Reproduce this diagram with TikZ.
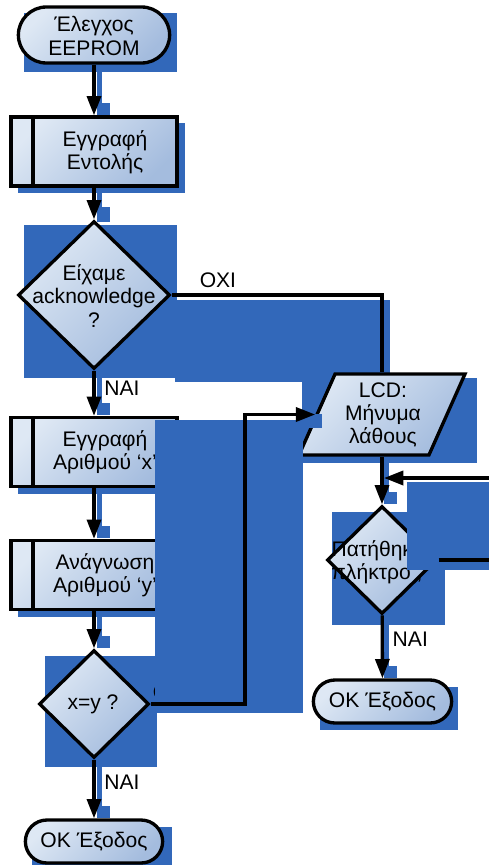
\documentclass[tikz,border=0pt]{standalone}
\usepackage{fontspec}
\setmainfont{Liberation Sans}
\usepackage{tikz}
\usetikzlibrary{arrows.meta}
\usetikzlibrary{backgrounds}
\usetikzlibrary{shapes,shapes.geometric,shapes.misc}
\pgfdeclarelayer{edgelayer}
\pgfdeclarelayer{nodelayer}
\pgfsetlayers{background,edgelayer,nodelayer,main}
\definecolor{shadowblue}{RGB}{50,104,186}
\definecolor{boxlight}{RGB}{222,232,244}
\definecolor{boxdark}{RGB}{164,188,222}
\tikzstyle{none}=[inner sep=0mm]
\tikzstyle{txt}=[inner sep=0mm,align=center,font=\fontsize{12}{13.2}\selectfont]
\tikzstyle{lbl}=[txt,anchor=west,xshift=5pt]
\tikzstyle{boxfill}=[draw=black,line width=1.9pt,top color=boxlight,bottom color=boxdark,shading angle=45]
\tikzstyle{term}=[boxfill,shape=rounded rectangle,minimum height=1.12cm]
\tikzstyle{proc}=[boxfill,shape=rectangle,minimum width=3.32cm,minimum height=1.38cm,path picture={\draw[line width=1.9pt] ([xshift=0.44cm]path picture bounding box.north west) -- ([xshift=0.44cm]path picture bounding box.south west);}]
\tikzstyle{dec}=[boxfill,shape=diamond,inner sep=0mm,minimum width=2.2cm,minimum height=2.16cm]
\tikzstyle{io}=[boxfill,shape=trapezium,trapezium left angle=69,trapezium right angle=111,trapezium stretches=true,minimum width=3.32cm,minimum height=1.62cm,inner sep=2pt]
\tikzstyle{sh}=[fill=shadowblue]
\tikzstyle{wire}=[line width=1.9pt]
\tikzstyle{arr}=[wire,-{Triangle[length=11pt,width=8pt]}]

\begin{document}
\begin{tikzpicture}[x=0.02cm,y=-0.02cm]
	\useasboundingbox (0,0) rectangle (489,865);
	\begin{pgfonlayer}{nodelayer}
		\node [style=term, minimum width=3.26cm] (t1) at (94,35) {};
		\node [style=txt] (t1t) at (94,36) {Έλεγχος\\EEPROM};
		\node [style=proc] (p1) at (94,151.5) {};
		\node [style=txt] (p1t) at (105,152) {Εγγραφή\\Εντολής};
		\node [style=dec, minimum width=3.04cm, minimum height=2.96cm] (d1) at (94,295) {};
		\node [style=txt] (d1t) at (94,296) {Είχαμε\\acknowledge\\?};
		\node [style=io] (lcd) at (382,414.5) {};
		\node [style=txt] (lcdt) at (383,415) {LCD:\\Μήνυμα\\λάθους};
		\node [style=proc] (p2) at (94,452) {};
		\node [style=txt] (p2t) at (105,452.5) {Εγγραφή\\Αριθμού ‘x’};
		\node [style=proc] (p3) at (94,575) {};
		\node [style=txt] (p3t) at (105,575) {Ανάγνωση\\Αριθμού ‘y’};
		\node [style=dec] (d3) at (94,704) {};
		\node [style=txt] (d3t) at (93,704) {x=y ?};
		\node [style=term, minimum width=2.98cm, minimum height=0.86cm] (t2) at (94,841.5) {};
		\node [style=txt] (t2t) at (94,841.5) {OK Έξοδος};
		\node [style=dec] (d2) at (382,560) {};
		\node [style=txt] (d2t) at (377,562) {Πατήθηκε\\πλήκτρο ;};
		\node [style=term, minimum width=3cm, minimum height=0.86cm] (t3) at (382.5,701.5) {};
		\node [style=txt] (t3t) at (382.5,701.5) {OK Έξοδος};
	\end{pgfonlayer}
	\begin{pgfonlayer}{background}
		% shadows of the shapes
		\fill [style=sh] (24,13) rectangle (177,72);
		\fill [style=sh] (18,123) rectangle (185,193);
		\fill [style=sh] (24,225) rectangle (177,378);
		\fill [style=sh] (18,423) rectangle (185,494);
		\fill [style=sh] (18,546) rectangle (185,617);
		\fill [style=sh] (45,656) rectangle (157,767);
		\fill [style=sh] (32,827) rectangle (172,872);
		\fill [style=sh] (175,300) rectangle (390,382);
		\fill [style=sh] (302,378) rectangle (477,463);
		\fill [style=sh] (332,512) rectangle (445,625);
		\fill [style=sh] (320,687) rectangle (458,730);
		% shadows of the arrows
		\fill [style=sh] (97,63) rectangle (102,103);
		\fill [style=sh] (97,103) rectangle (110,115);
		\fill [style=sh] (97,186) rectangle (102,207);
		\fill [style=sh] (97,207) rectangle (110,222);
		\fill [style=sh] (97,369) rectangle (102,403);
		\fill [style=sh] (97,403) rectangle (110,415);
		\fill [style=sh] (97,487) rectangle (102,526);
		\fill [style=sh] (97,526) rectangle (110,538);
		\fill [style=sh] (97,610) rectangle (102,636);
		\fill [style=sh] (97,636) rectangle (110,648);
		\fill [style=sh] (97,758) rectangle (102,806);
		\fill [style=sh] (97,806) rectangle (110,818);
		\fill [style=sh] (384,455) rectangle (389,492);
		\fill [style=sh] (384,492) rectangle (397,504);
		\fill [style=sh] (384,615) rectangle (389,666);
		\fill [style=sh] (384,666) rectangle (397,678);
	\end{pgfonlayer}
	\begin{pgfonlayer}{edgelayer}
		\draw [style=arr] (t1) to (p1);
		\draw [style=arr] (p1) to (d1);
		\draw [style=wire] (d1.east) -| node [style=txt, anchor=south, yshift=3pt, pos=0.11] {ΟΧΙ} (lcd.north);
		\draw [style=arr] (d1) to node [style=lbl, pos=0.4] {ΝΑΙ} (p2);
		\draw [style=arr] (p2) to (p3);
		\draw [style=arr] (p3) to (d3);
		\draw [style=arr] (d3) to node [style=lbl, pos=0.38] {ΝΑΙ} (t2);
		\draw [style=arr] (lcd) to (d2);
		\draw [style=arr] (d2) to node [style=lbl, pos=0.38] {ΝΑΙ} (t3);
	\end{pgfonlayer}
	% the two loops, drawn over the boxes
	\node [style=txt] (n1) at (171,692) {ΟΧΙ};
	\fill [style=sh] (155,420) rectangle (303,713);
	\fill [style=sh] (300,414) rectangle (322,428);
	\fill [style=sh] (407,482) rectangle (490,570);
	\coordinate (c1) at (245,704);
	\draw [style=arr] (d3.east) -- (c1) |- (lcd.west);
	\coordinate (c2) at (494,560);
	\coordinate (c3) at (494,478);
	\coordinate (c4) at (384,478);
	\draw [style=arr] (d2.east) -- (c2) -- (c3) -- (c4);
\end{tikzpicture}
\end{document}
